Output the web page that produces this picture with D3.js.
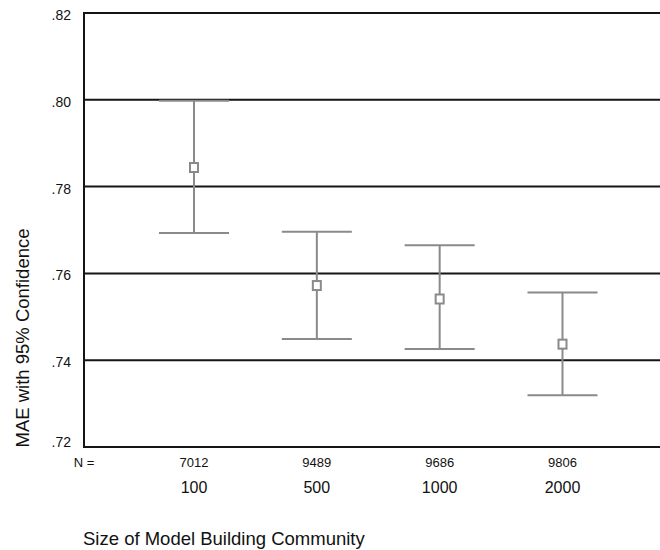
<!DOCTYPE html>
<html>
<head>
<meta charset="utf-8">
<script src="https://cdn.jsdelivr.net/npm/d3@7"></script>
<style>
  html, body { margin: 0; padding: 0; background: #fff; }
  svg text { font-family: "Liberation Sans", Arial, Helvetica, sans-serif; fill: #111; }
</style>
</head>
<body>
<svg id="chart" width="660" height="550"></svg>
<script>
const categories = ["100", "500", "1000", "2000"];
const nValues = ["7012", "9489", "9686", "9806"];
const means = [0.7844, 0.7572, 0.7541, 0.7437];
const lower = [0.7693, 0.7449, 0.7426, 0.7319];
const upper = [0.7998, 0.7696, 0.7665, 0.7556];
const yTicks = [0.72, 0.74, 0.76, 0.78, 0.80, 0.82];
const yTickLabels = [".72", ".74", ".76", ".78", ".80", ".82"];

(function () {
const svg = d3.select("#chart");
const plotLeft = 84, plotRight = 660, plotTop = 13, plotBottom = 447;

const y = d3.scaleLinear().domain([0.72, 0.82]).range([plotBottom, plotTop]);
const x = d3.scalePoint().domain(categories).range([194, 562.5]);

// gridlines
svg.append("g").selectAll("line").data(yTicks).join("line")
  .attr("x1", plotLeft).attr("x2", plotRight)
  .attr("y1", d => y(d)).attr("y2", d => y(d))
  .attr("stroke", "#151515").attr("stroke-width", 2);

// left axis line
svg.append("line").attr("x1", plotLeft).attr("x2", plotLeft)
  .attr("y1", y(0.82) - 1).attr("y2", y(0.72) + 1)
  .attr("stroke", "#151515").attr("stroke-width", 2);

// y tick labels
svg.append("g").selectAll("text").data(yTicks).join("text")
  .attr("x", 71)
  .attr("y", (d, i) => y(d) + (i === 0 ? 0 : 7))
  .attr("text-anchor", "end")
  .attr("font-size", 14)
  .text((d, i) => yTickLabels[i]);

// error bars
const capHalf = 35;
const g = svg.append("g").attr("stroke", "#8a8a8a").attr("stroke-width", 2).attr("fill", "none");
categories.forEach((c, i) => {
  const cx = x(c);
  g.append("line").attr("x1", cx).attr("x2", cx).attr("y1", y(upper[i])).attr("y2", y(lower[i]));
  g.append("line").attr("x1", cx - capHalf).attr("x2", cx + capHalf).attr("y1", y(upper[i])).attr("y2", y(upper[i]));
  g.append("line").attr("x1", cx - capHalf).attr("x2", cx + capHalf).attr("y1", y(lower[i])).attr("y2", y(lower[i]));
  g.append("rect").attr("x", cx - 4).attr("y", y(means[i]) - 4.5)
    .attr("width", 8).attr("height", 9).attr("fill", "#fff");
});

// N row
svg.append("text").attr("x", 84).attr("y", 467).attr("text-anchor", "middle")
  .attr("font-size", 13).text("N =");
svg.append("g").selectAll("text").data(categories).join("text")
  .attr("x", d => x(d)).attr("y", 467).attr("text-anchor", "middle")
  .attr("font-size", 13).text((d, i) => nValues[i]);

// category labels
svg.append("g").selectAll("text").data(categories).join("text")
  .attr("x", d => x(d)).attr("y", 493).attr("text-anchor", "middle")
  .attr("font-size", 16).text(d => d);

// axis titles
svg.append("text").attr("x", 83).attr("y", 545).attr("font-size", 18.5)
  .text("Size of Model Building Community");
svg.append("text").attr("transform", "translate(29,338) rotate(-90)")
  .attr("text-anchor", "middle").attr("font-size", 18.5)
  .text("MAE with 95% Confidence");
})();
</script>
</body>
</html>
